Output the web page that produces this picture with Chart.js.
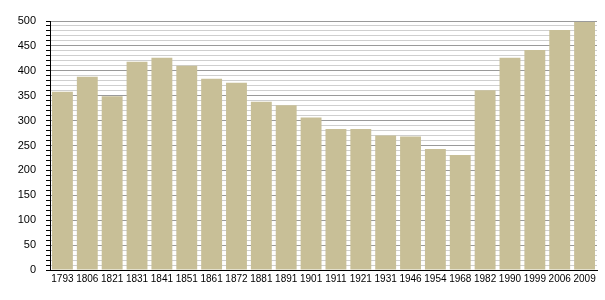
<!DOCTYPE html>
<html>
<head>
<meta charset="utf-8">
<script src="https://cdn.jsdelivr.net/npm/chart.js@4/dist/chart.umd.min.js"></script>
<style>
html,body{margin:0;padding:0;background:#fff;}
#wrap{width:605px;height:300px;position:relative;}
</style>
</head>
<body>
<div id="wrap"><canvas id="c" width="605" height="300"></canvas></div>
<script>
const years = ["1793","1806","1821","1831","1841","1851","1861","1872","1881","1891","1901","1911","1921","1931","1946","1954","1968","1982","1990","1999","2006","2009"];
const population = [358,388,349,418,426,410,384,376,338,331,306,283,283,270,268,243,231,361,426,442,482,498];
const yMin = 0, yMax = 500, yStep = 10, yLabelStep = 50;

new Chart(document.getElementById('c'), {
  type: 'bar',
  data: {
    labels: years,
    datasets: [{
      data: population,
      backgroundColor: '#c8bf97',
      borderWidth: 0,
      categoryPercentage: 1.0,
      barPercentage: 0.84
    }]
  },
  options: {
    responsive: false,
    animation: false,
    devicePixelRatio: 1,
    layout: { padding: { left: 0, right: 8, top: 21, bottom: 0 } },
    plugins: { legend: { display: false }, tooltip: { enabled: false } },
    scales: {
      x: {
        grid: { display: false, drawTicks: false },
        border: { display: true, color: '#000', width: 1 },
        ticks: {
          autoSkip: false, maxRotation: 0, minRotation: 0, padding: 3,
          color: '#000', font: { family: 'Liberation Sans', size: 10 }
        },
        afterFit(s) { s.height = 30; }
      },
      y: {
        min: yMin, max: yMax,
        grid: {
          color: ctx => (ctx.tick && ctx.tick.value % yLabelStep === 0) ? '#9a9a9a' : '#cfcfcf',
          lineWidth: 1,
          drawTicks: true,
          tickLength: 4,
          tickColor: '#000'
        },
        border: { display: true, color: '#000', width: 1 },
        ticks: {
          stepSize: yStep, autoSkip: false, padding: 10,
          color: '#000', font: { family: 'Liberation Sans', size: 11 },
          callback: v => (v % yLabelStep === 0) ? String(v) : ''
        },
        afterFit(s) { s.width = 50; }
      }
    }
  }
});
</script>
</body>
</html>
